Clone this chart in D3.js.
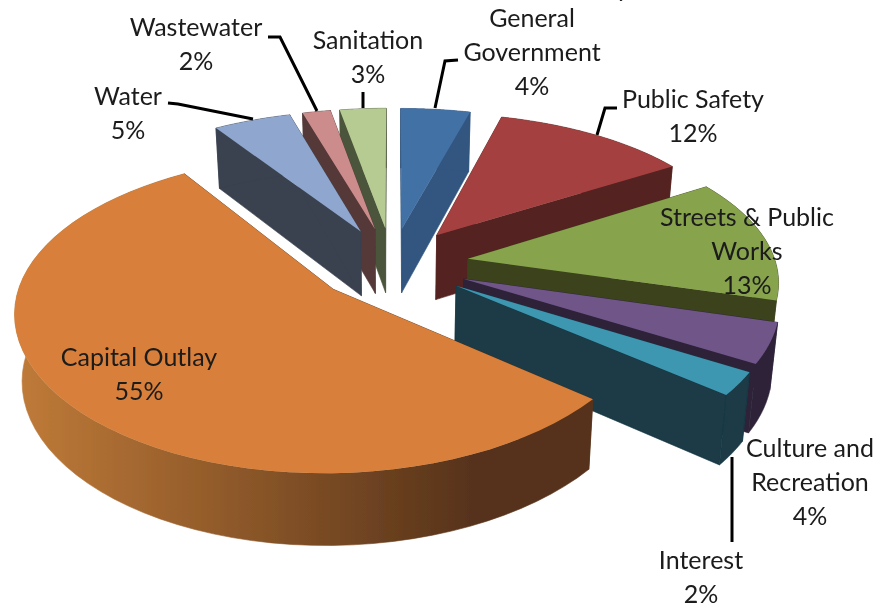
<!DOCTYPE html>
<html lang="en">
	<head>
		<meta charset="utf-8">
		<title>D3: exploded 3D pie</title>
		<script src="https://d3js.org/d3.v7.min.js"></script>
		<style type="text/css">
			html, body {margin: 0; padding: 0; background: #fff; overflow: hidden;}
			text {font-family: Lato, "Open Sans", sans-serif; font-size: 25px; fill: #1a1a1a; text-anchor: middle;}
		</style>
	</head>
	<body>
		<script type="text/javascript">
		// values, clockwise from 12 o'clock
		var categories = ["General Government", "Public Safety", "Streets & Public Works", "Culture and Recreation", "Interest", "Capital Outlay", "Water", "Wastewater", "Sanitation"];
		var shares = [4.2, 11.9, 13.3, 4.2, 2.4, 54.8, 4.7, 1.7, 2.8];

		var topColors = ["#4371a6", "#a4413f", "#87a34c", "#6f5489", "#3e97b0", "#d8803a", "#8fa6ce", "#cc8c8c", "#b5cb92"];
		var wallColors = ["#305680", "#552120", "#3a431d", "#2e2239", "#1a3a46", "url(#outlayWall)", "#3a4250", "#553838", "#4c553a"];

		// back slices first, outlay last
		var drawOrder = [0, 8, 7, 6, 1, 2, 3, 4, 5];

		// label text lines and where they sit
		var labelLines = [["General", "Government"], ["Public Safety"], ["Streets & Public", "Works"], ["Culture and", "Recreation"], ["Interest"], ["Capital Outlay"], ["Water"], ["Wastewater"], ["Sanitation"]];
		var labelAt = [[532, 27], [693, 108], [747, 226], [810, 457], [701, 569], [139, 366], [128, 105], [196, 36], [368, 49]];
		var lineGap = 34;

		var leaders = [
			[[458, 60], [445, 61], [435, 108]],
			[[617, 108], [605, 108], [597, 135]],
			[[732, 457], [732, 542]],
			[[168, 103], [178, 104], [253, 119]],
			[[268, 37], [280, 37], [317, 111]],
			[[363, 92], [363, 108]]
		];

		var width = 879, height = 607;

		// plane projection: unit pie seen from the front, so far side shrinks
		var perspX = 0.13, perspY = 0.15, explode = 0.25, depth = 65.5, depthPersp = 0.08, bottomShrink = 0.98;
		var sx = d3.scaleLinear().domain([-1, 1]).range([392 - 308, 392 + 308]);
		var sy = d3.scaleLinear().domain([-1, 1]).range([264 + 148, 264 - 148]);

		function project(X, Y, bottom) {
			var px = sx(X / (1 + perspX * Y)), py = sy(Y / (1 + perspY * Y));
			if (bottom) {
				px = 392 + (px - 392) * bottomShrink;
				py = py + depth / (1 + depthPersp * Y);
			}
			return [px, py];
		}

		var svg = d3.select("body")
			.append("svg")
			.attr("width", width)
			.attr("height", height);

		var defs = svg.append("defs");

		var grad = defs.append("linearGradient")
			.attr("id", "outlayWall")
			.attr("gradientUnits", "userSpaceOnUse")
			.attr("x1", 15).attr("x2", 470)
			.attr("y1", 0).attr("y2", 0);
		grad.append("stop").attr("offset", "0%").attr("stop-color", "#c07b38");
		grad.append("stop").attr("offset", "100%").attr("stop-color", "#57331a");

		// the reference is a soft upscaled image
		defs.append("filter")
			.attr("id", "soft")
			.attr("filterUnits", "userSpaceOnUse")
			.attr("x", 0).attr("y", 0)
			.attr("width", width).attr("height", height)
			.append("feGaussianBlur")
			.attr("stdDeviation", 0.45);

		var root = svg.append("g").attr("filter", "url(#soft)");

		var pie = d3.pie().sort(null).value(function(d){ return d; });
		var arcs = pie(shares);
		var line = d3.line();

		drawOrder.forEach(function(i){
			var a = arcs[i];
			var mid = (a.startAngle + a.endAngle) / 2;
			var ox = explode * Math.sin(mid), oy = explode * Math.cos(mid);

			var steps = d3.range(0, 61).map(function(k){
				return a.startAngle + (a.endAngle - a.startAngle) * k / 60;
			});
			var rimTop = steps.map(function(t){ return project(ox + Math.sin(t), oy + Math.cos(t), false); });
			var rimBot = steps.map(function(t){ return project(ox + Math.sin(t), oy + Math.cos(t), true); });
			var tipTop = project(ox, oy, false), tipBot = project(ox, oy, true);
			var n = rimTop.length - 1;

			var g = root.append("g");

			// two cut faces, rim wall, then the top on the very end
			[[tipTop, rimTop[0], rimBot[0], tipBot], [tipTop, rimTop[n], rimBot[n], tipBot]].forEach(function(face){
				var c = i == 5 ? "#57331a" : wallColors[i];
				g.append("path")
					.attr("d", line(face) + "Z")
					.attr("fill", c)
					.attr("stroke", c)
					.attr("stroke-width", 0.6);
			});

			// stroke hides the seam between wall pieces
			g.append("path")
				.attr("d", line(rimTop.concat(rimBot.slice().reverse())) + "Z")
				.attr("fill", wallColors[i])
				.attr("stroke", wallColors[i])
				.attr("stroke-width", 0.6);

			g.append("path")
				.attr("d", line([tipTop].concat(rimTop)) + "Z")
				.attr("fill", topColors[i]);
		});

		// leader lines
		leaders.forEach(function(p){
			root.append("path")
				.attr("d", line(p))
				.attr("fill", "none")
				.attr("stroke", "#000")
				.attr("stroke-width", 3);
		});

		// labels, percent is the rounded share
		labelLines.forEach(function(lines, i){
			var rows = lines.concat([Math.round(shares[i]) + "%"]);
			rows.forEach(function(r, k){
				root.append("text")
					.attr("x", labelAt[i][0])
					.attr("y", labelAt[i][1] + k * lineGap)
					.text(r);
			});
		});

		// tail of the cropped title at the top edge
		root.append("text").attr("x", 623).attr("y", -3).text("y");
		</script>
	</body>
</html>
